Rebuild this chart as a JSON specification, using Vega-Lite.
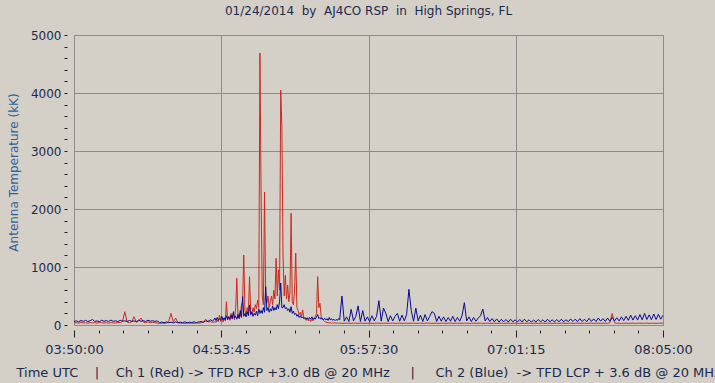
{
  "$schema": "https://vega.github.io/schema/vega-lite/v6.json",
  "autosize": {"type": "none"},
  "width": 589,
  "height": 290,
  "padding": {"left": 74, "top": 35, "right": 52, "bottom": 58},
  "background": "#d4d0c8",
  "title": {
    "text": "01/24/2014\u00a0\u00a0by\u00a0\u00a0AJ4CO RSP\u00a0\u00a0in\u00a0\u00a0High Springs, FL",
    "font": "DejaVu Sans", "fontSize": 12, "fontWeight": "normal", "color": "#1c2a4c",
    "anchor": "middle", "offset": 11
  },
  "config": {
    "view": {"stroke": "#808080", "strokeWidth": 1, "fill": "#d4d0c8"}
  },
  "datasets": {
    "rows": [
      {"t":0,"red":35,"blue":60},{"t":1,"red":40,"blue":72},{"t":2,"red":30,"blue":55},{"t":3,"red":45,"blue":78},{"t":4,"red":35,"blue":62},
      {"t":5,"red":38,"blue":80},{"t":6,"red":30,"blue":58},{"t":7,"red":42,"blue":75},{"t":8,"red":36,"blue":95},{"t":9,"red":40,"blue":62},
      {"t":10,"red":32,"blue":70},{"t":11,"red":45,"blue":58},{"t":12,"red":38,"blue":82},{"t":13,"red":35,"blue":64},{"t":14,"red":40,"blue":76},
      {"t":15,"red":30,"blue":60},{"t":16,"red":42,"blue":85},{"t":17,"red":36,"blue":62},{"t":18,"red":34,"blue":74},{"t":19,"red":45,"blue":58},
      {"t":20,"red":38,"blue":80},{"t":21,"red":60,"blue":66},{"t":22,"red":230,"blue":72},{"t":23,"red":50,"blue":60},{"t":24,"red":40,"blue":78},
      {"t":25,"red":55,"blue":64},{"t":26,"red":143,"blue":70},{"t":27,"red":45,"blue":60},{"t":28,"red":70,"blue":84},{"t":29,"red":120,"blue":62},
      {"t":30,"red":50,"blue":76},{"t":31,"red":40,"blue":60},{"t":32,"red":55,"blue":82},{"t":33,"red":38,"blue":66},{"t":34,"red":45,"blue":74},
      {"t":35,"red":40,"blue":62},{"t":36,"red":35,"blue":70},{"t":37,"red":30,"blue":42},{"t":38,"red":32,"blue":50},{"t":39,"red":28,"blue":38},
      {"t":40,"red":35,"blue":52},{"t":41,"red":60,"blue":40},{"t":42,"red":200,"blue":48},{"t":43,"red":50,"blue":36},{"t":44,"red":120,"blue":52},
      {"t":45,"red":40,"blue":38},{"t":46,"red":30,"blue":50},{"t":47,"red":32,"blue":40},{"t":48,"red":28,"blue":54},{"t":49,"red":35,"blue":38},
      {"t":50,"red":30,"blue":50},{"t":51,"red":32,"blue":42},{"t":52,"red":28,"blue":55},{"t":53,"red":35,"blue":40},{"t":54,"red":30,"blue":52},
      {"t":55,"red":38,"blue":60},{"t":56,"red":45,"blue":48},{"t":57,"red":100,"blue":70},{"t":58,"red":50,"blue":62},{"t":59,"red":60,"blue":90},
      {"t":60,"red":45,"blue":70},
      {"t":60.5,"red":50,"blue":85},{"t":61,"red":60,"blue":120},{"t":61.5,"red":45,"blue":75},{"t":62,"red":80,"blue":130},{"t":62.5,"red":55,"blue":80},
      {"t":63,"red":172,"blue":110},{"t":63.5,"red":60,"blue":90},{"t":64,"red":90,"blue":150},{"t":64.5,"red":50,"blue":85},{"t":65,"red":120,"blue":125},
      {"t":65.5,"red":70,"blue":90},{"t":66,"red":402,"blue":160},{"t":66.5,"red":90,"blue":95},{"t":67,"red":150,"blue":140},{"t":67.5,"red":80,"blue":100},
      {"t":68,"red":200,"blue":170},{"t":68.5,"red":100,"blue":110},{"t":69,"red":180,"blue":230},{"t":69.5,"red":90,"blue":120},{"t":70,"red":300,"blue":150},
      {"t":70.5,"red":805,"blue":100},{"t":71,"red":120,"blue":180},{"t":71.5,"red":200,"blue":110},{"t":72,"red":150,"blue":250},{"t":72.5,"red":350,"blue":130},
      {"t":73,"red":400,"blue":490},{"t":73.5,"red":1207,"blue":150},{"t":74,"red":250,"blue":200},{"t":74.5,"red":180,"blue":140},{"t":75,"red":300,"blue":230},
      {"t":75.5,"red":200,"blue":160},{"t":76,"red":833,"blue":345},{"t":76.5,"red":250,"blue":180},{"t":77,"red":180,"blue":220},{"t":77.5,"red":300,"blue":150},
      {"t":78,"red":220,"blue":200},{"t":78.5,"red":350,"blue":170},{"t":79,"red":280,"blue":240},{"t":79.5,"red":430,"blue":160},{"t":80,"red":300,"blue":280},
      {"t":80.5,"red":4690,"blue":200},{"t":81,"red":2240,"blue":250},{"t":81.5,"red":500,"blue":200},{"t":82,"red":350,"blue":300},{"t":82.5,"red":2293,"blue":220},
      {"t":83,"red":450,"blue":660},{"t":83.5,"red":380,"blue":250},{"t":84,"red":500,"blue":300},{"t":84.5,"red":300,"blue":220},{"t":85,"red":402,"blue":280},
      {"t":85.5,"red":500,"blue":240},{"t":86,"red":350,"blue":330},{"t":86.5,"red":600,"blue":250},{"t":87,"red":450,"blue":300},{"t":87.5,"red":1150,"blue":260},
      {"t":88,"red":500,"blue":350},{"t":88.5,"red":950,"blue":280},{"t":89,"red":600,"blue":400},{"t":89.5,"red":4052,"blue":724},{"t":90,"red":3420,"blue":300},
      {"t":90.5,"red":1207,"blue":300},{"t":91,"red":500,"blue":350},{"t":91.5,"red":856,"blue":280},{"t":92,"red":450,"blue":300},{"t":92.5,"red":690,"blue":250},
      {"t":93,"red":400,"blue":280},{"t":93.5,"red":550,"blue":220},{"t":94,"red":1925,"blue":316},{"t":94.5,"red":400,"blue":200},{"t":95,"red":350,"blue":240},
      {"t":95.5,"red":600,"blue":180},{"t":96,"red":1236,"blue":200},{"t":96.5,"red":300,"blue":150},{"t":97,"red":250,"blue":180},{"t":97.5,"red":180,"blue":130},
      {"t":98,"red":220,"blue":160},{"t":98.5,"red":150,"blue":120},{"t":99,"red":260,"blue":140},{"t":99.5,"red":120,"blue":110},{"t":100,"red":100,"blue":130},
      {"t":100.5,"red":80,"blue":100},{"t":101,"red":120,"blue":125},{"t":101.5,"red":70,"blue":95},{"t":102,"red":90,"blue":130},{"t":102.5,"red":60,"blue":100},
      {"t":103,"red":100,"blue":140},{"t":103.5,"red":70,"blue":95},{"t":104,"red":120,"blue":120},{"t":104.5,"red":150,"blue":100},{"t":105,"red":200,"blue":140},
      {"t":105.5,"red":833,"blue":180},{"t":106,"red":300,"blue":110},{"t":106.5,"red":373,"blue":130},{"t":107,"red":150,"blue":100},{"t":107.5,"red":100,"blue":120},
      {"t":108,"red":80,"blue":90},{"t":108.5,"red":60,"blue":115},{"t":109,"red":50,"blue":85},{"t":109.5,"red":45,"blue":110},{"t":110,"red":40,"blue":80},
      {"t":110.5,"red":35,"blue":130},{"t":111,"red":40,"blue":85},{"t":111.5,"red":30,"blue":110},{"t":112,"red":38,"blue":80},{"t":112.5,"red":32,"blue":100},
      {"t":113,"red":40,"blue":75},{"t":113.5,"red":30,"blue":95},{"t":114,"red":35,"blue":80},{"t":114.5,"red":30,"blue":110},{"t":115,"red":32,"blue":85},
      {"t":116,"red":30,"blue":500},{"t":117,"red":28,"blue":65},{"t":118,"red":32,"blue":140},{"t":119,"red":30,"blue":60},{"t":120,"red":28,"blue":270},
      {"t":121,"red":35,"blue":70},{"t":122,"red":30,"blue":150},{"t":123,"red":28,"blue":330},{"t":124,"red":32,"blue":60},{"t":125,"red":30,"blue":250},
      {"t":126,"red":28,"blue":65},{"t":127,"red":30,"blue":140},{"t":128,"red":35,"blue":60},{"t":129,"red":28,"blue":160},{"t":130,"red":30,"blue":70},
      {"t":131,"red":32,"blue":150},{"t":132,"red":30,"blue":420},{"t":133,"red":28,"blue":65},{"t":134,"red":30,"blue":293},{"t":135,"red":32,"blue":200},
      {"t":136,"red":28,"blue":60},{"t":137,"red":30,"blue":160},{"t":138,"red":35,"blue":70},{"t":139,"red":28,"blue":150},{"t":140,"red":30,"blue":200},
      {"t":141,"red":32,"blue":65},{"t":142,"red":28,"blue":170},{"t":143,"red":30,"blue":70},{"t":144,"red":32,"blue":180},{"t":145,"red":28,"blue":615},
      {"t":146,"red":30,"blue":250},{"t":147,"red":32,"blue":65},{"t":148,"red":28,"blue":290},{"t":149,"red":30,"blue":70},{"t":150,"red":32,"blue":170},
      {"t":151,"red":28,"blue":60},{"t":152,"red":30,"blue":180},{"t":153,"red":35,"blue":70},{"t":154,"red":30,"blue":150},{"t":155,"red":28,"blue":230},
      {"t":156,"red":32,"blue":200},{"t":157,"red":30,"blue":60},{"t":158,"red":28,"blue":150},{"t":159,"red":30,"blue":65},{"t":160,"red":32,"blue":140},
      {"t":161,"red":28,"blue":60},{"t":162,"red":30,"blue":130},{"t":163,"red":35,"blue":65},{"t":164,"red":28,"blue":150},{"t":165,"red":30,"blue":60},
      {"t":166,"red":32,"blue":130},{"t":167,"red":28,"blue":65},{"t":168,"red":30,"blue":160},{"t":169,"red":30,"blue":385},{"t":170,"red":32,"blue":70},
      {"t":171,"red":28,"blue":140},{"t":172,"red":30,"blue":60},{"t":173,"red":32,"blue":130},{"t":174,"red":28,"blue":65},{"t":175,"red":30,"blue":120},
      {"t":176,"red":32,"blue":160},{"t":177,"red":28,"blue":275},{"t":178,"red":30,"blue":70},{"t":179,"red":32,"blue":130},{"t":180,"red":28,"blue":60},
      {"t":181,"red":30,"blue":110},{"t":182,"red":32,"blue":55},{"t":183,"red":28,"blue":105},{"t":184,"red":30,"blue":50},{"t":185,"red":32,"blue":100},
      {"t":186,"red":28,"blue":55},{"t":187,"red":30,"blue":95},{"t":188,"red":32,"blue":50},{"t":189,"red":28,"blue":100},{"t":190,"red":30,"blue":55},
      {"t":191,"red":32,"blue":90},{"t":192,"red":28,"blue":50},{"t":193,"red":30,"blue":95},{"t":194,"red":32,"blue":52},{"t":195,"red":28,"blue":100},
      {"t":196,"red":30,"blue":55},{"t":197,"red":32,"blue":90},{"t":198,"red":28,"blue":50},{"t":199,"red":30,"blue":85},{"t":200,"red":32,"blue":52},
      {"t":201,"red":28,"blue":95},{"t":202,"red":30,"blue":55},{"t":203,"red":32,"blue":90},{"t":204,"red":28,"blue":50},{"t":205,"red":30,"blue":100},
      {"t":206,"red":32,"blue":55},{"t":207,"red":28,"blue":90},{"t":208,"red":30,"blue":52},{"t":209,"red":32,"blue":95},{"t":210,"red":28,"blue":55},
      {"t":211,"red":30,"blue":100},{"t":212,"red":32,"blue":55},{"t":213,"red":28,"blue":90},{"t":214,"red":30,"blue":58},{"t":215,"red":32,"blue":105},
      {"t":216,"red":28,"blue":60},{"t":217,"red":30,"blue":100},{"t":218,"red":32,"blue":58},{"t":219,"red":28,"blue":110},{"t":220,"red":30,"blue":60},
      {"t":221,"red":32,"blue":100},{"t":222,"red":28,"blue":58},{"t":223,"red":30,"blue":115},{"t":224,"red":32,"blue":62},{"t":225,"red":28,"blue":105},
      {"t":226,"red":30,"blue":60},{"t":227,"red":32,"blue":120},{"t":228,"red":28,"blue":65},{"t":229,"red":30,"blue":110},{"t":230,"red":32,"blue":62},
      {"t":231,"red":28,"blue":120},{"t":232,"red":40,"blue":65},{"t":233,"red":200,"blue":130},{"t":234,"red":40,"blue":70},{"t":235,"red":30,"blue":125},
      {"t":236,"red":32,"blue":70},{"t":237,"red":28,"blue":140},{"t":238,"red":30,"blue":75},{"t":239,"red":32,"blue":150},{"t":240,"red":28,"blue":80},
      {"t":241,"red":30,"blue":170},{"t":242,"red":32,"blue":85},{"t":243,"red":28,"blue":160},{"t":244,"red":30,"blue":85},{"t":245,"red":32,"blue":180},
      {"t":246,"red":28,"blue":90},{"t":247,"red":30,"blue":200},{"t":248,"red":32,"blue":95},{"t":249,"red":28,"blue":175},{"t":250,"red":30,"blue":90},
      {"t":251,"red":32,"blue":190},{"t":252,"red":28,"blue":95},{"t":253,"red":30,"blue":185},{"t":254,"red":32,"blue":100},{"t":255,"red":30,"blue":170}
    ]
  },
  "data": {"name": "rows"},
  "layer": [
    {
      "mark": {"type": "line", "color": "#cc2a1e", "strokeWidth": 1, "clip": true},
      "encoding": {
        "x": {
          "field": "t", "type": "quantitative",
          "scale": {"domain": [0, 255], "nice": false, "zero": false},
          "axis": {
            "values": [0,10.625,21.25,31.875,42.5,53.125,63.75,74.375,85,95.625,106.25,116.875,127.5,138.125,148.75,159.375,170,180.625,191.25,201.875,212.5,223.125,233.75,244.375,255],
            "tickCount": 100,
            "labelExpr": "datum.value % 63.75 == 0 ? utcFormat(datum.value * 60000 + utc(2014, 0, 24, 3, 50), '%H:%M:%S') : ''",
            "labelFont": "DejaVu Sans", "labelFontSize": 13, "labelColor": "#1c2a4c",
            "labelPadding": 6, "labelOverlap": false, "labelFlush": false,
            "domain": false, "offset": 5,
            "tickColor": "#222222", "tickWidth": 1,
            "tickSize": {"condition": {"test": "datum.value % 63.75 == 0", "value": 7}, "value": 3},
            "grid": true, "gridColor": "#8c8c8c", "gridWidth": 1,
            "gridOpacity": {"condition": {"test": "datum.value % 63.75 == 0", "value": 1}, "value": 0},
            "title": "Time UTC\u00a0\u00a0\u00a0\u00a0|\u00a0\u00a0\u00a0\u00a0Ch 1 (Red) -> TFD RCP +3.0 dB @ 20 MHz\u00a0\u00a0\u00a0\u00a0\u00a0|\u00a0\u00a0\u00a0\u00a0\u00a0Ch 2 (Blue)\u00a0\u00a0-> TFD LCP + 3.6 dB @ 20 MHz",
            "titleFont": "DejaVu Sans", "titleFontSize": 13, "titleFontWeight": "normal", "titleColor": "#1c2a4c",
            "titleAlign": "left", "titleBaseline": "alphabetic", "titleX": -58, "titleY": 46
          }
        },
        "y": {
          "field": "red", "type": "quantitative",
          "scale": {"domain": [0, 5000], "nice": false},
          "axis": {
            "values": [0,200,400,600,800,1000,1200,1400,1600,1800,2000,2200,2400,2600,2800,3000,3200,3400,3600,3800,4000,4200,4400,4600,4800,5000],
            "tickCount": 100,
            "labelExpr": "datum.value % 1000 == 0 ? datum.value : ''",
            "labelFont": "DejaVu Sans", "labelFontSize": 12, "labelColor": "#1c2a4c",
            "labelPadding": 3, "labelOverlap": false, "labelFlush": false,
            "domain": false, "offset": 7,
            "tickColor": "#222222", "tickWidth": 1, "tickSize": 3,
            "grid": true, "gridColor": "#8c8c8c", "gridWidth": 1,
            "gridOpacity": {"condition": {"test": "datum.value % 1000 == 0", "value": 1}, "value": 0},
            "title": "Antenna Temperature (kK)",
            "titleFont": "DejaVu Sans", "titleFontSize": 12, "titleFontWeight": "normal", "titleColor": "#32609a",
            "titleAlign": "center", "titleBaseline": "alphabetic", "titleAngle": -90, "titleX": -50, "titleY": 137
          }
        }
      }
    },
    {
      "mark": {"type": "line", "color": "#0a0a96", "strokeWidth": 1, "clip": true},
      "encoding": {
        "x": {"field": "t", "type": "quantitative"},
        "y": {"field": "blue", "type": "quantitative"}
      }
    }
  ]
}
